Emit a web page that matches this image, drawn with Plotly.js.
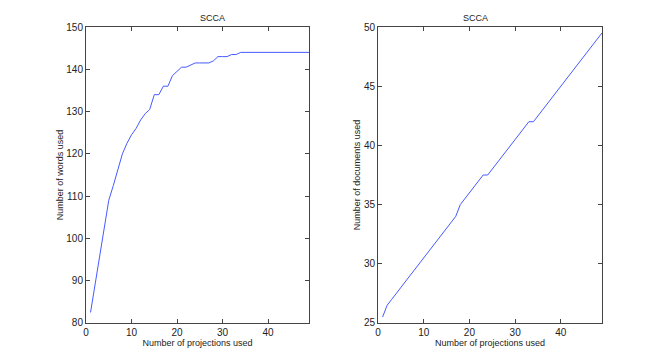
<!DOCTYPE html>
<html>
<head>
<meta charset="utf-8">
<script src="https://cdn.plot.ly/plotly-3.0.1.min.js"></script>
<style>
  html, body { margin: 0; padding: 0; background: #fff; }
  #plot { width: 664px; height: 363px; }
</style>
</head>
<body>
<div id="plot"></div>
<script>
// projections used (x) for both panels
const projections = [1,2,3,4,5,6,7,8,9,10,11,12,13,14,15,16,17,18,19,20,21,22,23,24,25,
  26,27,28,29,30,31,32,33,34,35,36,37,38,39,40,41,42,43,44,45,46,47,48,49];

// left panel: number of words used
const wordsUsed = [82.5,89,95.5,102,109,112.5,116.5,120,122.5,124.5,126,128,129.5,130.5,134,
  134,136,136,138.5,139.5,140.5,140.5,141,141.5,141.5,141.5,141.5,142,143,143,143,143.5,143.5,
  144,144,144,144,144,144,144,144,144,144,144,144,144,144,144,144];

// right panel: number of documents used
const docsUsed = [25.5,26.5,27,27.5,28,28.5,29,29.5,30,30.5,31,31.5,32,32.5,33,33.5,34,35,
  35.5,36,36.5,37,37.5,37.5,38,38.5,39,39.5,40,40.5,41,41.5,42,42,42.5,43,43.5,44,44.5,45,
  45.5,46,46.5,47,47.5,48,48.5,49,49.5];

const xTicks = [0,10,20,30,40];
const wordTicks = [80,90,100,110,120,130,140,150];
const docTicks = [25,30,35,40,45,50];

const FONT = "Liberation Sans, Arial, sans-serif";
const lineColor = "rgb(70,90,255)";

function axisBase(extra){
  return Object.assign({
    showgrid: false,
    zeroline: false,
    showline: true,
    mirror: "ticks",
    linecolor: "#444",
    linewidth: 1,
    ticks: "inside",
    ticklen: 4,
    tickcolor: "#444",
    tickfont: { family: FONT, size: 10, color: "#222" },
    fixedrange: true
  }, extra);
}

const traces = [
  { type: "scatter", mode: "lines", x: projections, y: wordsUsed,
    xaxis: "x", yaxis: "y", line: { color: lineColor, width: 1 }, hoverinfo: "skip" },
  { type: "scatter", mode: "lines", x: projections, y: docsUsed,
    xaxis: "x2", yaxis: "y2", line: { color: lineColor, width: 1 }, hoverinfo: "skip" }
];

const titleFont = { family: FONT, size: 9, color: "#222" };

const layout = {
  width: 664, height: 363,
  margin: { l: 0, r: 0, t: 0, b: 0 },
  paper_bgcolor: "#fff",
  plot_bgcolor: "#fff",
  showlegend: false,
  xaxis: axisBase({ domain: [0.1295, 0.4654], range: [0, 49], tickvals: xTicks, anchor: "y",
    title: { text: "Number of projections used", font: titleFont, standoff: 0 } }),
  yaxis: axisBase({ domain: [0.1102, 0.9256], range: [80, 150], tickvals: wordTicks, anchor: "x",
    title: { text: "Number of words used", font: titleFont, standoff: 1 } }),
  xaxis2: axisBase({ domain: [0.5693, 0.9066], range: [0, 49], tickvals: xTicks, anchor: "y2",
    title: { text: "Number of projections used", font: titleFont, standoff: 0 } }),
  yaxis2: axisBase({ domain: [0.1102, 0.9256], range: [25, 50], tickvals: docTicks, anchor: "x2",
    title: { text: "Number of documents used", font: titleFont, standoff: 1 } }),
  annotations: [
    { text: "SCCA", xref: "paper", yref: "paper", x: (0.1295 + 0.4654) / 2, y: 0.9256,
      yshift: 2, yanchor: "bottom", showarrow: false, font: titleFont },
    { text: "SCCA", xref: "paper", yref: "paper", x: (0.5693 + 0.9066) / 2, y: 0.9256,
      yshift: 2, yanchor: "bottom", showarrow: false, font: titleFont }
  ]
};

Plotly.newPlot("plot", traces, layout, { displayModeBar: false, staticPlot: true });
</script>
</body>
</html>
